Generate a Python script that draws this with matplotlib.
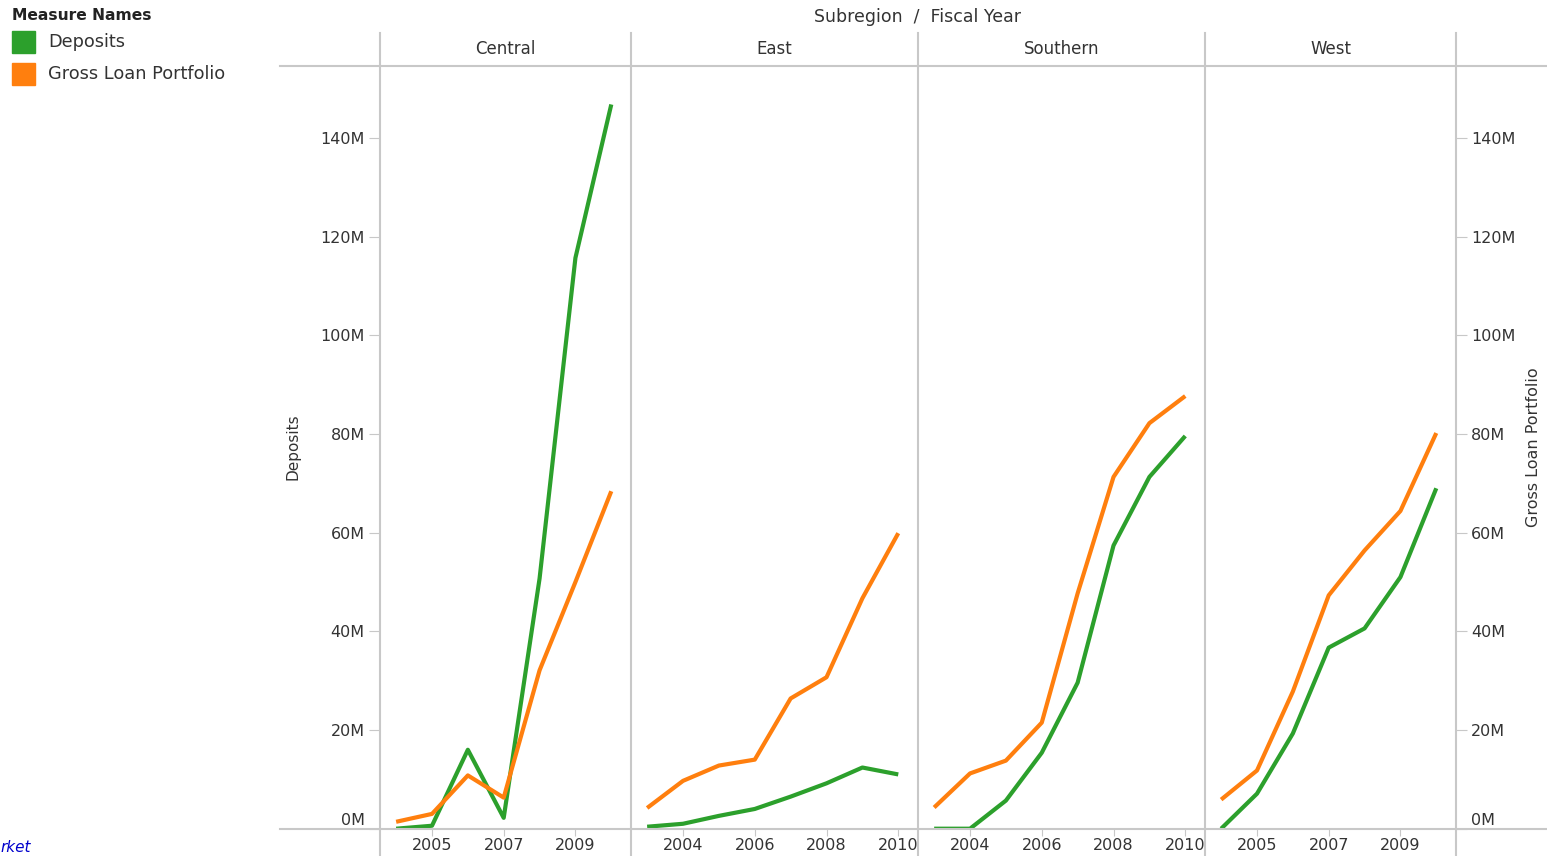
import matplotlib
matplotlib.use("Agg")
import matplotlib.pyplot as plt
from matplotlib.lines import Line2D
from matplotlib.transforms import ScaledTranslation

# values in millions
subregions = ["Central", "East", "Southern", "West"]
years_central = [2004, 2005, 2006, 2007, 2008, 2009, 2010]
years_east = [2003, 2004, 2005, 2006, 2007, 2008, 2009, 2010]
years_southern = [2003, 2004, 2005, 2006, 2007, 2008, 2009, 2010]
years_west = [2004, 2005, 2006, 2007, 2008, 2009, 2010]

deposits_central = [0.0, 0.6, 16.0, 2.2, 50.7, 115.7, 146.8]
deposits_east = [0.4, 1.0, 2.6, 4.0, 6.5, 9.2, 12.4, 11.0]
deposits_southern = [0.0, 0.0, 5.7, 15.4, 29.6, 57.4, 71.3, 79.6]
deposits_west = [0.0, 7.1, 19.3, 36.7, 40.6, 51.0, 69.0]

loans_central = [1.4, 3.0, 10.8, 6.3, 32.1, 50.0, 68.4]
loans_east = [4.2, 9.7, 12.8, 14.0, 26.4, 30.7, 46.7, 59.9]
loans_southern = [4.3, 11.2, 13.8, 21.5, 47.7, 71.3, 82.2, 87.7]
loans_west = [5.9, 11.8, 27.8, 47.3, 56.4, 64.4, 80.2]

xticks_central = [2005, 2007, 2009]
xticks_east = [2004, 2006, 2008, 2010]
xticks_southern = [2004, 2006, 2008, 2010]
xticks_west = [2005, 2007, 2009]

yticks = [0, 20, 40, 60, 80, 100, 120, 140]

GREEN = "#2ca02c"
ORANGE = "#ff7f0e"
GRID = "#c8c8c8"
TXT = "#333333"
FS = 11.5

W, H = 1547, 856
fig = plt.figure(figsize=(W / 100, H / 100), dpi=100)
plt.rcParams["font.family"] = ["DejaVu Sans"]


def fx(px):
    return px / W


def fy(py):
    return 1 - py / H


top, bottom = 66, 828.7
ymax = (bottom - top) / 98.67 * 20

panels = [
    (years_central, deposits_central, loans_central, xticks_central, 380, 631),
    (years_east, deposits_east, loans_east, xticks_east, 631, 918),
    (years_southern, deposits_southern, loans_southern, xticks_southern, 918, 1205),
    (years_west, deposits_west, loans_west, xticks_west, 1205, 1456),
]

axes = []
for i, (yrs, dep, glp, xt, x0, x1) in enumerate(panels):
    ax = fig.add_axes([fx(x0), fy(bottom), fx(x1) - fx(x0), fy(top) - fy(bottom)])
    ax.plot(yrs, dep, color=GREEN, lw=3, solid_capstyle="butt")
    ax.plot(yrs, glp, color=ORANGE, lw=3, solid_capstyle="butt")
    ax.set_xlim(min(yrs) - 0.45, max(yrs) + 0.55)
    ax.set_ylim(0, ymax)
    for s in ax.spines.values():
        s.set_visible(False)
    ax.set_xticks(xt)
    ax.set_xticklabels([str(y) for y in xt])
    ax.tick_params(axis="x", length=5, color=GRID, labelsize=FS, labelcolor=TXT, pad=2)
    if i == 0:
        ax.set_yticks(yticks)
        ax.set_yticklabels([f"{v}M" for v in yticks])
        ax.tick_params(axis="y", length=8, color=GRID, labelsize=FS, labelcolor=TXT, pad=3)
        lab = ax.get_yticklabels()[0]
        lab.set_transform(lab.get_transform() + ScaledTranslation(0, 10 / 100, fig.dpi_scale_trans))
    else:
        ax.set_yticks([])
    axes.append(ax)

# right axis for Gross Loan Portfolio
axr = axes[-1].twinx()
axr.set_ylim(0, ymax)
for s in axr.spines.values():
    s.set_visible(False)
axr.set_yticks(yticks)
axr.set_yticklabels([f"{v}M" for v in yticks])
axr.tick_params(axis="y", length=8, color=GRID, labelsize=FS, labelcolor=TXT, pad=3)
lab = axr.get_yticklabels()[0]
lab.set_transform(lab.get_transform() + ScaledTranslation(0, 10 / 100, fig.dpi_scale_trans))

# frame lines
for yy in (top, bottom):
    fig.add_artist(Line2D([fx(280), 1], [fy(yy), fy(yy)], color=GRID, lw=1.5))
for xx in (380, 631, 918, 1205, 1456):
    fig.add_artist(Line2D([fx(xx), fx(xx)], [fy(33), 0], color=GRID, lw=1.5))

# headers
fig.text(fx(918), fy(17), "Subregion  /  Fiscal Year", ha="center", va="center", fontsize=12.5, color=TXT)
for name, (_, _, _, _, x0, x1) in zip(subregions, panels):
    fig.text(fx((x0 + x1) / 2), fy(49), name, ha="center", va="center", fontsize=12, color=TXT)

# axis titles
fig.text(fx(293), fy(447), "Deposits", rotation=90, ha="center", va="center", fontsize=11, color=TXT)
fig.text(fx(1533), fy(447), "Gross Loan Portfolio", rotation=90, ha="center", va="center", fontsize=11.5, color=TXT)

# legend
fig.text(fx(12), fy(16), "Measure Names", ha="left", va="center", fontsize=11.2, fontweight="bold", color="#222222")
for k, (lbl, col) in enumerate([("Deposits", GREEN), ("Gross Loan Portfolio", ORANGE)]):
    yc = 42 + 32 * k
    fig.patches.append(plt.Rectangle((fx(12), fy(yc + 11)), fx(23), 22 / H, color=col, transform=fig.transFigure))
    fig.text(fx(48), fy(yc), lbl, ha="left", va="center", fontsize=12.8, color=TXT)

# link text fragment at the bottom-left corner
fig.text(fx(0), fy(855), "rket", ha="left", va="bottom", fontsize=11, style="italic", color="#0000cc")

fig.savefig("out.png", dpi=100)
